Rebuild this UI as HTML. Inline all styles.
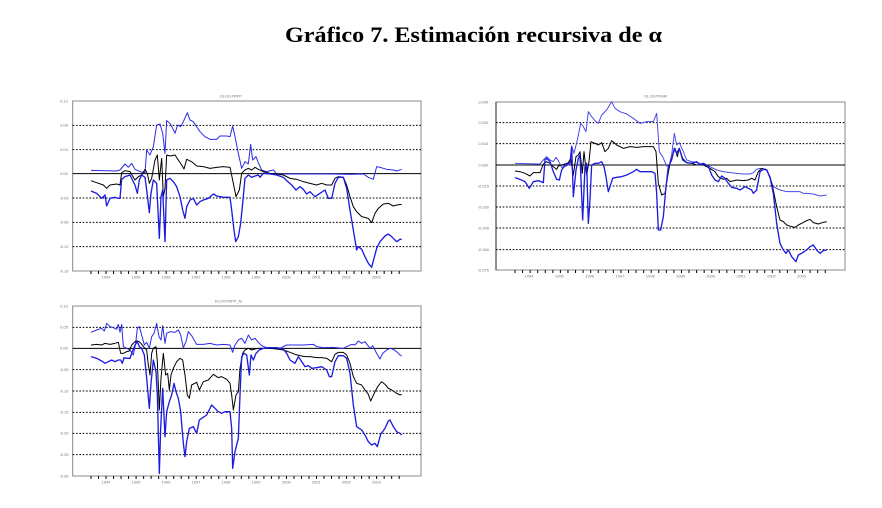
<!DOCTYPE html>
<html><head><meta charset="utf-8"><style>
html,body{margin:0;padding:0;background:#fff;}
svg{display:block;}
</style></head><body>
<svg width="882" height="508" viewBox="0 0 882 508" xmlns="http://www.w3.org/2000/svg">
<rect width="882" height="508" fill="#fff"/>
<text x="285" y="42" font-family="Liberation Serif, serif" font-weight="bold" font-size="22" textLength="377" lengthAdjust="spacingAndGlyphs" fill="#000">Gráfico 7. Estimación recursiva de  α</text>

<!-- Chart 1 -->
<g transform="translate(50,90) scale(0.33333)" font-family="Liberation Sans, sans-serif">
<rect x="68" y="33" width="1045" height="510" fill="none" stroke="#888" stroke-width="3"/>
<g stroke="#000" stroke-width="3" stroke-dasharray="5,5">
<line x1="68" x2="1113" y1="106" y2="106"/><line x1="68" x2="1113" y1="179" y2="179"/>
<line x1="68" x2="1113" y1="324" y2="324"/><line x1="68" x2="1113" y1="397" y2="397"/><line x1="68" x2="1113" y1="470" y2="470"/>
</g>
<line x1="68" x2="1113" y1="251" y2="251" stroke="#000" stroke-width="3"/>
<g font-size="12" fill="#777" text-anchor="middle">
<text x="42" y="37">0.12</text><text x="42" y="110">0.08</text><text x="42" y="183">0.04</text><text x="42" y="255">0.00</text>
<text x="42" y="328">-0.04</text><text x="42" y="401">-0.08</text><text x="42" y="474">-0.12</text><text x="42" y="547">-0.16</text>
<text x="543" y="22">DLOGTRPP</text>
<text x="168" y="565">1994</text><text x="258" y="565">1995</text><text x="348" y="565">1996</text><text x="438" y="565">1997</text><text x="528" y="565">1998</text><text x="618" y="565">1999</text><text x="709" y="565">2000</text><text x="799" y="565">2001</text><text x="889" y="565">2002</text><text x="979" y="565">2003</text>
</g>
<path stroke="#000" stroke-width="3" d="M123 543v9M145.6 543v9M168.1 543v9M190.7 543v9M213.2 543v9M235.8 543v9M258.3 543v9M280.9 543v9M303.4 543v9M326 543v9M348.5 543v9M371.1 543v9M393.6 543v9M416.2 543v9M438.7 543v9M461.3 543v9M483.8 543v9M506.4 543v9M528.9 543v9M551.5 543v9M574 543v9M596.6 543v9M619.1 543v9M641.7 543v9M664.2 543v9M686.8 543v9M709.3 543v9M731.9 543v9M754.4 543v9M777 543v9M799.5 543v9M822.1 543v9M844.6 543v9M867.2 543v9M889.7 543v9M912.3 543v9M934.8 543v9M957.4 543v9M979.9 543v9M1002.5 543v9M1025 543v9M1047.6 543v9"/>
<g fill="none" stroke-linejoin="round">
<polyline stroke="#2a2ae6" stroke-width="3" points="123,241 200,243 210,240 225,222 235,232 245,220 255,238 270,245 285,248 290,180 300,195 310,170 320,105 330,102 338,130 345,190 350,92 360,100 368,115 375,130 383,105 392,110 400,95 412,68 420,90 430,95 440,110 450,125 465,140 480,148 500,148 510,138 530,138 540,140 548,108 555,140 565,190 575,235 585,215 595,222 602,163 608,210 618,200 625,218 635,240 650,245 670,240 680,252 700,252 800,252 850,252 900,253 940,252 955,262 970,268 980,230 990,232 1010,238 1030,240 1040,243 1055,238"/>
<polyline stroke="#000" stroke-width="3" points="123,272 140,278 160,285 170,295 180,285 200,282 210,285 215,248 225,242 240,245 255,270 265,260 275,255 285,238 292,250 298,280 305,265 315,210 322,195 328,270 335,205 340,320 345,295 350,195 360,198 375,195 385,210 395,225 402,237 410,208 425,215 440,228 460,230 480,235 500,232 520,230 540,232 548,270 558,320 568,300 575,250 585,240 595,235 605,240 615,232 625,238 640,245 660,250 680,252 700,255 720,265 740,268 760,275 780,280 800,285 815,280 830,285 845,285 855,265 865,260 880,262 890,285 900,320 910,350 920,365 935,380 955,385 965,398 975,370 985,355 1000,342 1015,340 1030,348 1040,345 1055,343"/>
<polyline stroke="#1c1ce0" stroke-width="4" points="123,303 140,310 155,325 165,315 170,348 180,325 195,322 205,325 210,325 215,268 225,260 240,255 255,285 262,310 268,270 275,255 285,262 290,300 298,368 303,310 310,270 320,280 328,445 333,320 338,300 345,455 350,270 360,265 370,275 380,290 390,320 398,360 405,385 410,350 420,330 430,325 440,345 450,335 460,330 475,325 490,312 500,318 520,322 540,322 545,360 552,420 557,455 565,440 572,400 578,340 585,265 595,255 605,262 615,258 625,255 630,262 640,250 660,252 680,255 700,262 710,272 725,285 738,300 750,290 760,298 770,312 780,305 795,320 810,310 825,300 835,325 845,325 855,280 865,262 880,262 890,295 900,360 910,420 920,480 925,470 935,478 945,500 955,520 965,532 972,505 980,475 990,455 1005,438 1015,432 1025,440 1040,455 1050,448 1055,448"/>
</g>
</g>

<!-- Chart 2 -->
<g transform="translate(470,90) scale(0.33333)" font-family="Liberation Sans, sans-serif">
<rect x="78" y="36" width="1047" height="504" fill="none" stroke="#888" stroke-width="3"/>
<line x1="78" x2="78" y1="36" y2="540" stroke="#222" stroke-width="3"/>
<g stroke="#000" stroke-width="3" stroke-dasharray="5,5">
<line x1="78" x2="1125" y1="98" y2="98"/><line x1="78" x2="1125" y1="161" y2="161"/>
<line x1="78" x2="1125" y1="288" y2="288"/><line x1="78" x2="1125" y1="351" y2="351"/><line x1="78" x2="1125" y1="414" y2="414"/><line x1="78" x2="1125" y1="479" y2="479"/>
</g>
<line x1="78" x2="1125" y1="225" y2="225" stroke="#000" stroke-width="3"/>
<g font-size="12" fill="#777" text-anchor="middle">
<text x="40" y="40">0.045</text><text x="40" y="102">0.030</text><text x="40" y="165">0.015</text><text x="40" y="229">0.000</text>
<text x="40" y="292">-0.015</text><text x="40" y="355">-0.030</text><text x="40" y="418">-0.045</text><text x="40" y="483">-0.060</text><text x="40" y="544">-0.075</text>
<text x="557" y="22">DLOGTRAM</text>
<text x="177" y="563">1994</text><text x="268" y="563">1995</text><text x="359" y="563">1996</text><text x="450" y="563">1997</text><text x="541" y="563">1998</text><text x="632" y="563">1999</text><text x="722" y="563">2000</text><text x="813" y="563">2001</text><text x="904" y="563">2002</text><text x="995" y="563">2003</text>
</g>
<path stroke="#000" stroke-width="3" d="M135 540v9M157.7 540v9M180.4 540v9M203.1 540v9M225.8 540v9M248.5 540v9M271.2 540v9M293.9 540v9M316.6 540v9M339.3 540v9M362 540v9M384.7 540v9M407.4 540v9M430.1 540v9M452.8 540v9M475.5 540v9M498.2 540v9M520.9 540v9M543.6 540v9M566.3 540v9M589 540v9M611.7 540v9M634.4 540v9M657.1 540v9M679.8 540v9M702.5 540v9M725.2 540v9M747.9 540v9M770.6 540v9M793.3 540v9M816 540v9M838.7 540v9M861.4 540v9M884.1 540v9M906.8 540v9M929.5 540v9M952.2 540v9M974.9 540v9M997.6 540v9M1020.3 540v9M1043 540v9M1065.7 540v9"/>
<g fill="none" stroke-linejoin="round">
<polyline stroke="#4a4ae8" stroke-width="3" points="135,220 210,222 220,210 230,200 240,210 250,215 258,202 265,212 275,232 285,230 300,222 305,168 312,190 322,150 332,100 340,110 348,125 355,65 365,80 378,95 385,100 395,75 410,60 425,35 435,55 450,65 470,72 490,85 510,100 520,98 530,95 550,95 560,70 568,185 578,200 590,228 598,225 605,195 613,130 620,165 628,158 638,180 650,210 665,215 680,218 700,222 720,230 740,240 760,245 780,248 800,250 820,252 840,252 850,248 860,238 870,235 890,238 900,265 910,290 930,300 950,305 970,305 990,305 1000,310 1010,310 1030,312 1050,318 1070,315"/>
<polyline stroke="#000" stroke-width="3" points="135,243 150,245 165,250 180,258 190,248 210,248 220,222 230,215 240,220 250,230 260,238 265,228 275,225 285,222 295,218 302,205 310,255 318,200 325,195 330,185 337,250 342,185 350,255 357,215 363,155 375,160 385,165 395,158 405,185 415,175 425,152 440,165 460,175 480,170 500,172 520,170 550,170 558,185 565,280 575,315 585,310 592,265 600,220 610,190 615,175 622,200 628,175 638,205 650,218 665,220 680,225 700,225 720,235 735,245 745,260 760,268 770,265 780,275 800,270 820,272 835,270 845,265 855,270 865,245 875,235 890,240 900,260 910,300 920,350 930,390 940,395 950,405 965,410 975,412 985,405 995,400 1010,392 1020,388 1030,398 1045,402 1060,397 1070,395"/>
<polyline stroke="#1c1ce0" stroke-width="4" points="135,263 150,268 165,275 178,295 190,275 205,272 220,278 225,210 230,205 240,215 250,245 260,268 268,270 275,240 285,225 295,220 300,220 305,170 310,320 318,240 325,205 330,195 338,390 345,230 350,220 355,400 360,330 365,225 375,220 385,220 395,215 402,230 408,260 415,305 420,290 428,265 440,262 455,260 470,255 490,245 500,238 510,245 530,245 545,245 555,250 560,310 565,420 572,420 580,380 588,290 595,230 605,210 613,175 620,190 628,175 638,210 650,218 665,220 680,215 690,225 700,220 715,228 725,255 735,270 745,275 755,258 765,265 775,280 785,292 800,295 810,300 825,290 835,295 845,300 850,310 860,300 870,245 880,238 890,240 900,262 910,310 920,400 930,460 940,480 948,490 955,480 965,500 978,515 985,495 995,490 1010,480 1020,470 1030,465 1040,480 1050,490 1060,482 1070,480"/>
</g>
</g>

<!-- Chart 3 -->
<g transform="translate(50,295) scale(0.33333)" font-family="Liberation Sans, sans-serif">
<rect x="68" y="33" width="1045" height="510" fill="none" stroke="#888" stroke-width="3"/>
<g stroke="#000" stroke-width="3" stroke-dasharray="5,5">
<line x1="68" x2="1113" y1="97" y2="97"/>
<line x1="68" x2="1113" y1="224" y2="224"/><line x1="68" x2="1113" y1="288" y2="288"/><line x1="68" x2="1113" y1="352" y2="352"/><line x1="68" x2="1113" y1="415" y2="415"/><line x1="68" x2="1113" y1="479" y2="479"/>
</g>
<line x1="68" x2="1113" y1="160" y2="160" stroke="#000" stroke-width="3"/>
<g font-size="12" fill="#777" text-anchor="middle">
<text x="42" y="37">0.10</text><text x="42" y="101">0.05</text><text x="42" y="164">0.00</text><text x="42" y="228">-0.05</text>
<text x="42" y="292">-0.10</text><text x="42" y="356">-0.15</text><text x="42" y="419">-0.20</text><text x="42" y="483">-0.25</text><text x="42" y="547">-0.30</text>
<text x="535" y="22">DLOGTRPP_M</text>
<text x="168" y="565">1994</text><text x="258" y="565">1995</text><text x="348" y="565">1996</text><text x="438" y="565">1997</text><text x="528" y="565">1998</text><text x="618" y="565">1999</text><text x="709" y="565">2000</text><text x="799" y="565">2001</text><text x="889" y="565">2002</text><text x="979" y="565">2003</text>
</g>
<path stroke="#000" stroke-width="3" d="M123 543v9M145.6 543v9M168.1 543v9M190.7 543v9M213.2 543v9M235.8 543v9M258.3 543v9M280.9 543v9M303.4 543v9M326 543v9M348.5 543v9M371.1 543v9M393.6 543v9M416.2 543v9M438.7 543v9M461.3 543v9M483.8 543v9M506.4 543v9M528.9 543v9M551.5 543v9M574 543v9M596.6 543v9M619.1 543v9M641.7 543v9M664.2 543v9M686.8 543v9M709.3 543v9M731.9 543v9M754.4 543v9M777 543v9M799.5 543v9M822.1 543v9M844.6 543v9M867.2 543v9M889.7 543v9M912.3 543v9M934.8 543v9M957.4 543v9M979.9 543v9M1002.5 543v9M1025 543v9M1047.6 543v9"/>
<g fill="none" stroke-linejoin="round">
<polyline stroke="#2a2ae6" stroke-width="3" points="123,112 140,105 155,100 163,108 170,85 180,95 190,98 200,103 205,88 210,112 215,88 220,155 230,160 240,165 250,180 257,145 262,100 268,95 275,120 283,150 290,142 298,160 305,125 312,115 320,85 327,125 333,135 338,92 345,145 350,115 360,110 375,112 385,105 392,120 400,158 408,140 415,110 425,122 440,148 460,148 480,145 500,150 520,148 540,150 548,172 555,150 565,135 575,130 585,145 595,120 605,135 615,130 625,142 635,152 650,158 670,158 690,160 710,150 730,150 760,150 790,148 800,155 820,158 850,157 880,160 890,155 905,148 915,150 925,138 935,145 945,140 960,160 968,152 980,175 990,192 998,175 1010,165 1020,160 1030,163 1040,170 1050,180 1055,183"/>
<polyline stroke="#000" stroke-width="3" points="123,150 140,148 155,150 165,145 180,148 195,145 205,142 212,175 220,175 230,170 238,168 245,150 255,140 262,138 268,140 275,148 283,158 290,165 295,210 300,240 305,175 310,160 318,155 322,200 328,345 333,250 340,175 347,240 353,235 358,285 363,240 370,220 380,200 390,190 398,195 405,240 412,300 418,310 425,270 440,262 448,285 460,260 475,255 490,238 505,248 515,245 530,253 540,265 545,300 550,345 558,300 565,290 570,220 578,175 585,165 595,160 605,165 615,162 625,160 640,160 660,160 680,162 700,165 720,172 735,178 750,182 765,185 780,185 800,188 815,188 830,190 845,200 855,178 865,172 880,172 890,180 900,205 910,245 920,265 935,270 945,285 955,298 962,318 968,305 975,290 985,272 995,260 1005,268 1015,280 1025,285 1040,295 1050,300 1055,298"/>
<polyline stroke="#1c1ce0" stroke-width="4" points="123,185 140,190 155,198 165,205 175,200 185,195 195,200 205,195 212,195 217,205 222,188 230,190 240,190 245,175 255,150 262,140 268,155 275,160 283,180 290,250 298,340 303,265 310,195 318,230 322,300 328,535 332,400 338,280 345,425 350,350 358,320 365,300 372,265 378,290 385,310 392,350 400,445 405,485 410,440 418,400 430,395 440,415 448,375 458,368 470,360 485,330 495,340 505,350 515,355 525,350 540,350 545,400 548,520 555,470 565,430 570,300 575,185 582,175 590,180 598,240 603,180 610,195 618,175 628,165 640,160 660,158 680,158 700,162 710,175 720,195 735,205 745,185 755,200 765,215 775,212 785,220 800,218 815,215 830,225 838,245 845,245 855,200 865,182 880,182 890,190 900,235 910,330 920,395 935,405 945,420 955,440 965,450 975,445 982,455 992,418 1005,400 1015,378 1020,375 1030,395 1040,410 1050,415 1055,420"/>
</g>
</g>
</svg>
</body></html>
